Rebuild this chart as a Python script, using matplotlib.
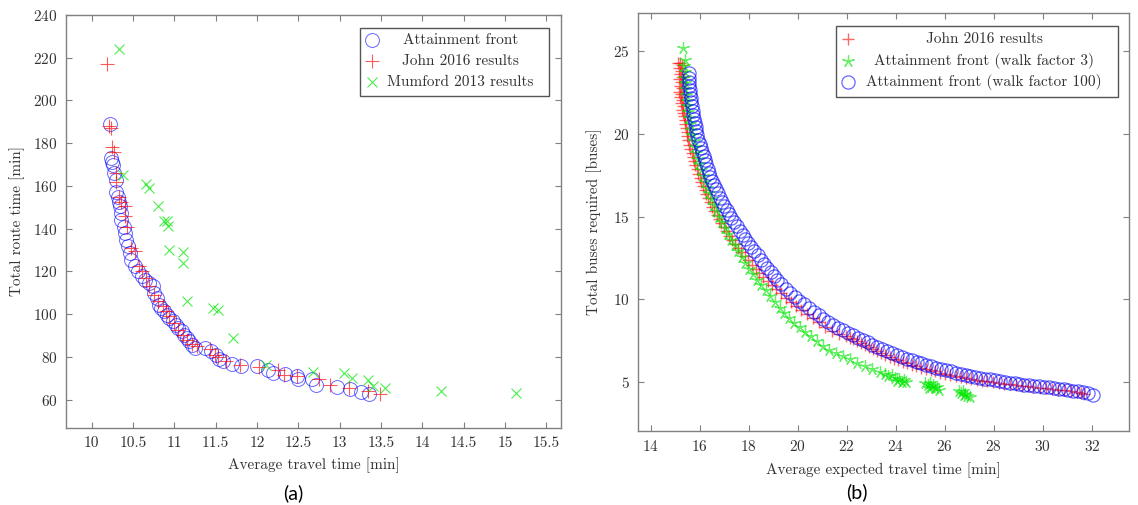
import matplotlib
matplotlib.use("Agg")
import matplotlib.pyplot as plt
from matplotlib.patches import Rectangle

plt.rcParams['font.family'] = ['cmr10', 'DejaVu Serif']
plt.rcParams['axes.formatter.use_mathtext'] = True

# ---------------- Panel (a) data ----------------
a_att_x = [10.22, 10.23, 10.25, 10.26, 10.27, 10.29, 10.30, 10.32, 10.33, 10.34, 10.35, 10.36,
           10.39, 10.40, 10.42, 10.44, 10.46, 10.48, 10.52, 10.56, 10.61, 10.65, 10.69, 10.74,
           10.76, 10.79, 10.81, 10.84, 10.88, 10.91, 10.94, 10.99, 11.02, 11.05, 11.09, 11.12,
           11.15, 11.18, 11.21, 11.25, 11.37, 11.45, 11.50, 11.54, 11.59, 11.70, 11.81, 12.00,
           12.13, 12.20, 12.34, 12.48, 12.50, 12.67, 12.72, 12.97, 13.13, 13.26, 13.36]
a_att_y = [189.0, 173.0, 171.4, 169.9, 166.0, 162.9, 157.0, 155.0, 152.7, 150.4, 147.3, 144.2,
           141.0, 138.0, 134.8, 131.7, 128.6, 125.5, 122.3, 120.0, 117.7, 116.1, 114.6, 113.0,
           109.9, 107.5, 104.4, 102.9, 101.3, 99.7, 98.2, 96.6, 95.1, 93.5, 92.0, 90.4,
           88.8, 87.3, 85.7, 84.2, 84.2, 82.6, 81.0, 79.0, 77.9, 76.7, 75.9, 75.6,
           73.7, 72.5, 72.2, 70.9, 69.7, 69.4, 67.0, 65.9, 65.0, 63.4, 62.7]

a_john_x = [10.19, 10.21, 10.23, 10.25, 10.27, 10.29, 10.30, 10.33, 10.35, 10.40, 10.40, 10.43,
            10.48, 10.52, 10.57, 10.61, 10.66, 10.70, 10.76, 10.80, 10.86, 10.90, 10.94, 11.00,
            11.05, 11.10, 11.15, 11.21, 11.28, 11.43, 11.49, 11.53, 11.63, 11.80, 12.02, 12.26,
            12.33, 12.48, 12.75, 12.88, 13.12, 13.34, 13.49]
a_john_y = [216.9, 188.1, 187.0, 178.4, 176.1, 166.0, 162.0, 155.0, 152.7, 150.4, 145.7, 141.0,
            130.9, 129.4, 122.3, 120.0, 116.9, 113.0, 109.1, 106.0, 103.6, 101.3, 99.0, 95.9,
            92.7, 90.4, 88.0, 86.2, 84.9, 83.7, 81.0, 80.0, 77.9, 76.4, 75.3, 74.0,
            71.7, 70.9, 69.4, 67.0, 65.5, 63.9, 62.7]

a_mum_x = [10.33, 10.38, 10.66, 10.70, 10.80, 10.88, 10.91, 10.93, 10.94, 11.10, 11.10, 11.16,
           11.47, 11.53, 11.71, 12.11, 12.68, 13.05, 13.15, 13.34, 13.40, 13.55, 14.23, 15.13]
a_mum_y = [224.0, 165.0, 160.8, 159.0, 150.4, 143.8, 143.8, 141.3, 130.0, 128.9, 123.9, 106.0,
           102.9, 102.0, 88.9, 76.0, 73.0, 72.4, 70.0, 69.3, 66.5, 65.3, 64.0, 63.0]

a_xticks = [10, 10.5, 11, 11.5, 12, 12.5, 13, 13.5, 14, 14.5, 15, 15.5]
a_yticks = [60, 80, 100, 120, 140, 160, 180, 200, 220, 240]

# ---------------- Panel (b) data ----------------
b_john_x = [15.12, 15.20, 15.28, 15.15, 15.22, 15.18, 15.26, 15.14, 15.22, 15.19, 15.27, 15.16,
            15.23, 15.20, 15.28, 15.25, 15.30, 15.27, 15.33, 15.35, 15.38, 15.40, 15.44, 15.47,
            15.50, 15.54, 15.58, 15.62, 15.67, 15.72, 15.77, 15.82, 15.88, 15.94, 16.00, 16.06,
            16.13, 16.20, 16.27, 16.35, 16.43, 16.51, 16.60, 16.69, 16.78, 16.88, 16.98, 17.09,
            17.20, 17.32, 17.44, 17.57, 17.70, 17.84, 17.98, 18.13, 18.28, 18.44, 18.60, 18.77,
            18.95, 19.13, 19.32, 19.52, 19.72, 19.93, 20.15, 20.38, 20.62, 20.87, 21.13, 21.40,
            21.68, 21.97, 22.12, 22.27, 22.42, 22.58, 22.74, 22.90, 23.06, 23.23, 23.40, 23.57,
            23.75, 23.92, 24.10, 24.28, 24.46, 24.65, 24.84, 25.03, 25.22, 25.42, 25.62, 25.82,
            26.02, 26.23, 26.44, 26.65, 26.86, 27.08, 27.30, 27.52, 27.74, 27.97, 28.20, 28.43,
            28.66, 28.90, 29.14, 29.38, 29.62, 29.87, 30.12, 30.37, 30.62, 30.88, 31.14, 31.40,
            31.55, 31.70]
b_john_y = [24.30, 24.25, 24.15, 23.95, 23.80, 23.60, 23.45, 23.30, 23.10, 22.90, 22.75, 22.55,
            22.40, 22.20, 22.05, 21.85, 21.65, 21.45, 21.25, 21.05, 20.85, 20.60, 20.35, 20.10,
            19.85, 19.60, 19.35, 19.10, 18.85, 18.60, 18.35, 18.10, 17.85, 17.60, 17.35, 17.10,
            16.85, 16.60, 16.35, 16.10, 15.85, 15.60, 15.35, 15.10, 14.85, 14.60, 14.35, 14.10,
            13.85, 13.60, 13.35, 13.10, 12.85, 12.60, 12.35, 12.10, 11.85, 11.60, 11.35, 11.10,
            10.85, 10.60, 10.35, 10.10, 9.85, 9.60, 9.35, 9.10, 8.85, 8.60, 8.35, 8.10,
            7.92, 7.80, 7.69, 7.57, 7.45, 7.33, 7.22, 7.11, 7.00, 6.89, 6.77, 6.65,
            6.53, 6.42, 6.31, 6.21, 6.12, 6.03, 5.95, 5.87, 5.79, 5.72, 5.64, 5.56,
            5.49, 5.42, 5.36, 5.30, 5.24, 5.19, 5.14, 5.09, 5.04, 5.00, 4.95, 4.91,
            4.86, 4.82, 4.77, 4.73, 4.68, 4.64, 4.61, 4.58, 4.54, 4.50, 4.45, 4.40,
            4.35, 4.30]

b_wf3_x = [15.30, 15.38, 15.34, 15.39, 15.37, 15.42, 15.41, 15.45, 15.47, 15.50, 15.54, 15.58,
           15.62, 15.66, 15.70, 15.75, 15.80, 15.86, 15.92, 15.98, 16.05, 16.12, 16.20, 16.28,
           16.37, 16.47, 16.57, 16.67, 16.78, 16.90, 17.02, 17.15, 17.28, 17.42, 17.56, 17.71,
           17.86, 18.02, 18.18, 18.35, 18.52, 18.70, 18.88, 19.07, 19.26, 19.45, 19.65, 19.86,
           20.08, 20.30, 20.53, 20.77, 21.02, 21.28, 21.55, 21.83, 22.12, 22.42, 22.73, 23.05,
           23.35, 23.55, 23.70, 23.85, 23.95, 24.05, 24.15, 24.25, 24.35, 24.42,
           25.20, 25.30, 25.38, 25.45, 25.52, 25.60, 25.68, 25.78, 25.35,
           26.60, 26.68, 26.75, 26.82, 26.92, 27.02, 26.80]
b_wf3_y = [25.20, 24.45, 24.10, 23.75, 23.40, 23.05, 22.70, 22.35, 22.00, 21.65, 21.30, 20.95,
           20.60, 20.25, 19.90, 19.55, 19.20, 18.85, 18.50, 18.15, 17.80, 17.45, 17.10, 16.75,
           16.40, 16.05, 15.70, 15.35, 15.00, 14.65, 14.30, 13.95, 13.60, 13.25, 12.90, 12.55,
           12.20, 11.85, 11.50, 11.15, 10.85, 10.55, 10.20, 9.85, 9.50, 9.18, 8.87, 8.58,
           8.30, 8.03, 7.78, 7.45, 7.15, 6.95, 6.75, 6.57, 6.38, 6.18, 5.98, 5.78,
           5.62, 5.50, 5.38, 5.45, 5.22, 5.08, 5.18, 4.98, 5.12, 5.02,
           4.95, 4.82, 4.92, 4.72, 4.82, 4.62, 4.68, 4.52, 4.65,
           4.48, 4.33, 4.43, 4.27, 4.18, 4.12, 4.20]

b_wf100_x = [15.55, 15.55, 15.57, 15.58, 15.60, 15.62, 15.64, 15.66, 15.68, 15.71, 15.74, 15.77,
             15.80, 15.83, 15.86, 15.90, 15.95, 16.00, 16.05, 16.11, 16.16, 16.22, 16.27, 16.33,
             16.38, 16.44, 16.51, 16.59, 16.66, 16.74, 16.83, 16.92, 17.01, 17.10, 17.19, 17.29,
             17.40, 17.52, 17.63, 17.75, 17.86, 17.98, 18.10, 18.23, 18.36, 18.49, 18.63, 18.76,
             18.90, 19.03, 19.17, 19.32, 19.51, 19.70, 19.88, 20.07, 20.25, 20.45, 20.65, 20.85,
             21.05, 21.25, 21.45, 21.65, 21.85, 22.05, 22.25, 22.45, 22.65, 22.85, 23.05, 23.25,
             23.45, 23.65, 23.85, 24.05, 24.25, 24.45, 24.65, 24.85, 25.05, 25.25, 25.45, 25.65,
             25.85, 26.05, 26.25, 26.45, 26.65, 26.85, 27.05, 27.25, 27.45, 27.65, 27.85, 28.05,
             28.25, 28.45, 28.65, 28.85, 29.05, 29.25, 29.45, 29.65, 29.85, 30.05, 30.25, 30.45,
             30.65, 30.85, 31.05, 31.25, 31.45, 31.65, 31.85, 32.05]
b_wf100_y = [23.65, 23.40, 23.15, 22.90, 22.65, 22.40, 22.15, 21.90, 21.65, 21.40, 21.15, 20.90,
             20.65, 20.40, 20.15, 19.90, 19.65, 19.40, 19.15, 18.90, 18.65, 18.40, 18.15, 17.90,
             17.65, 17.40, 17.15, 16.90, 16.65, 16.40, 16.15, 15.90, 15.65, 15.40, 15.15, 14.90,
             14.65, 14.40, 14.15, 13.90, 13.65, 13.40, 13.15, 12.90, 12.65, 12.40, 12.15, 11.90,
             11.65, 11.40, 11.15, 10.90, 10.65, 10.40, 10.15, 9.90, 9.70, 9.47, 9.24, 9.03,
             8.83, 8.64, 8.46, 8.29, 8.13, 7.97, 7.82, 7.67, 7.53, 7.39, 7.26, 7.13,
             7.00, 6.87, 6.75, 6.63, 6.52, 6.41, 6.31, 6.21, 6.12, 6.03, 5.95, 5.87,
             5.79, 5.71, 5.64, 5.57, 5.50, 5.44, 5.38, 5.32, 5.26, 5.21, 5.16, 5.11,
             5.06, 5.01, 4.97, 4.93, 4.89, 4.85, 4.81, 4.77, 4.73, 4.70, 4.67, 4.63,
             4.60, 4.56, 4.52, 4.48, 4.43, 4.38, 4.31, 4.22]

b_xticks = [14, 16, 18, 20, 22, 24, 26, 28, 30, 32]
b_yticks = [5, 10, 15, 20, 25]

# ---------------- styling ----------------
FRAME = '#808080'
TXT = '#333333'
FS = 11
BLUE = (0.0, 0.0, 1.0)
RED = (1.0, 0.0, 0.0)
GREEN = (0.0, 0.9, 0.0)

fig = plt.figure(figsize=(11.38, 5.05), dpi=100)
axa = fig.add_axes([0.058, 0.1525, 0.435, 0.8178])
axb = fig.add_axes([0.5606, 0.1465, 0.4315, 0.8278])


def style(ax):
    for s in ax.spines.values():
        s.set_color(FRAME)
        s.set_linewidth(1.0)
    ax.tick_params(direction='in', top=True, right=True, length=4, width=0.8,
                   color=FRAME, labelcolor=TXT, labelsize=FS, pad=6)


def legend(ax, box, mx, tx, rows):
    x0, y0, x1, y1 = box
    ax.add_patch(Rectangle((x0, y0), x1 - x0, y1 - y0, transform=ax.transAxes,
                           facecolor='white', edgecolor='#555555', lw=1.0,
                           zorder=10, clip_on=False))
    for y, kw, label in rows:
        ax.plot([mx], [y], transform=ax.transAxes, linestyle='none', zorder=11,
                clip_on=False, **kw)
        ax.text(tx, y, label, transform=ax.transAxes, ha='center', va='center',
                fontsize=FS, color=TXT, zorder=11)


# ----- panel (a) -----
att_kw = dict(marker='o', markersize=10, markerfacecolor='none', markeredgecolor=BLUE,
              markeredgewidth=0.7, alpha=0.6)
john_kw = dict(marker='+', markersize=10, markeredgecolor=RED, markeredgewidth=0.8, alpha=0.65)
mum_kw = dict(marker='x', markersize=7.5, markeredgecolor=GREEN, markeredgewidth=0.8, alpha=0.7)

axa.plot(a_att_x, a_att_y, linestyle='none', **att_kw)
axa.plot(a_john_x, a_john_y, linestyle='none', **john_kw)
axa.plot(a_mum_x, a_mum_y, linestyle='none', **mum_kw)
axa.set_xlim(9.69, 15.68)
axa.set_ylim(46.7, 240)
axa.set_xticks(a_xticks)
axa.set_xticklabels([('%g' % v) for v in a_xticks])
axa.set_yticks(a_yticks)
style(axa)
axa.set_xlabel('Average travel time [min]', fontsize=FS, color=TXT, labelpad=5)
axa.set_ylabel('Total route time [min]', fontsize=FS, color=TXT, labelpad=6)
legend(axa, (0.593, 0.804, 0.976, 0.969), 0.618, 0.797,
       [(0.939, att_kw, 'Attainment front'),
        (0.889, john_kw, 'John 2016 results'),
        (0.838, mum_kw, 'Mumford 2013 results')])

# ----- panel (b) -----
bj_kw = dict(marker='+', markersize=8, markeredgecolor=RED, markeredgewidth=1.0, alpha=0.6)
bw3_kw = dict(marker=(5, 2, 0), markersize=9, markeredgecolor=GREEN, markeredgewidth=0.9, alpha=0.6)
bw100_kw = dict(marker='o', markersize=9.5, markerfacecolor='none', markeredgecolor=BLUE,
                markeredgewidth=0.9, alpha=0.6)

axb.plot(b_john_x, b_john_y, linestyle='none', **bj_kw)
axb.plot(b_wf3_x, b_wf3_y, linestyle='none', **bw3_kw)
axb.plot(b_wf100_x, b_wf100_y, linestyle='none', **bw100_kw)
axb.set_xlim(13.48, 33.52)
axb.set_ylim(2.04, 27.3)
axb.set_xticks(b_xticks)
axb.set_yticks(b_yticks)
style(axb)
axb.set_xlabel('Average expected travel time [min]', fontsize=FS, color=TXT, labelpad=6)
axb.set_ylabel('Total buses required [buses]', fontsize=FS, color=TXT, labelpad=8)
legend(axb, (0.403, 0.799, 0.978, 0.969), 0.428, 0.705,
       [(0.938, bj_kw, 'John 2016 results'),
        (0.885, bw3_kw, 'Attainment front (walk factor 3)'),
        (0.835, bw100_kw, 'Attainment front (walk factor 100)')])

fig.text(293 / 1138, 1 - 493 / 505, '(a)', family=['Lato', 'DejaVu Sans'], fontsize=14,
         ha='center', va='center', color='black')
fig.text(857 / 1138, 1 - 492 / 505, '(b)', family=['Lato', 'DejaVu Sans'], fontsize=14,
         ha='center', va='center', color='black')

fig.savefig('out.png', dpi=100, facecolor='white')
